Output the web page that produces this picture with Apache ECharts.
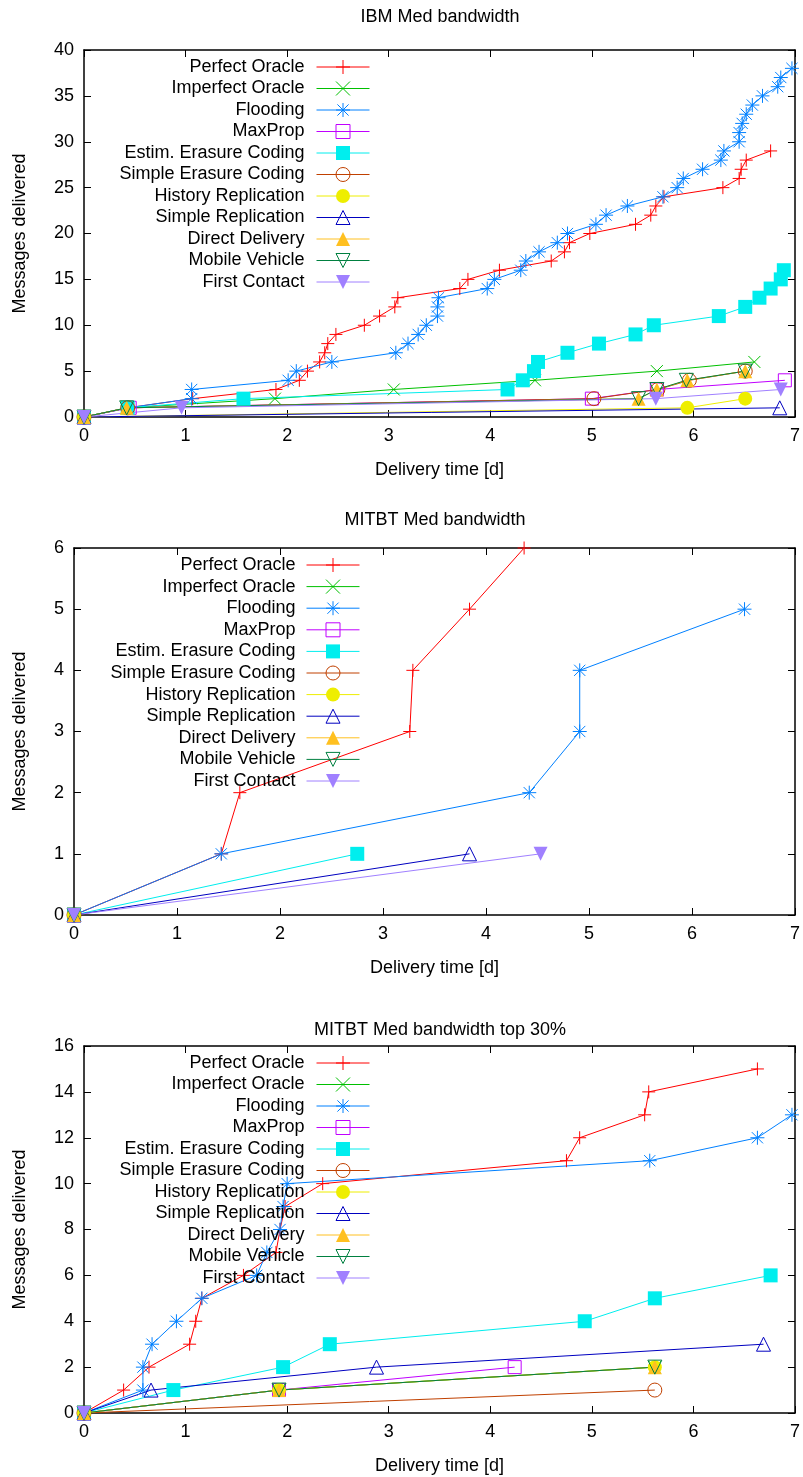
<!DOCTYPE html>
<html><head><meta charset="utf-8">
<script src="https://cdn.jsdelivr.net/npm/echarts@6/dist/echarts.min.js"></script>
<style>html,body{margin:0;padding:0;background:#fff}#c{width:803px;height:1477px}</style>
</head><body><div id="c"></div>
<script>
// ---------------- DATA ----------------
const seriesNames = ['Perfect Oracle','Imperfect Oracle','Flooding','MaxProp','Estim. Erasure Coding','Simple Erasure Coding','History Replication','Simple Replication','Direct Delivery','Mobile Vehicle','First Contact'];
const panelTitles = ['IBM Med bandwidth','MITBT Med bandwidth','MITBT Med bandwidth top 30%'];
const xAxisName = 'Delivery time [d]';
const yAxisName = 'Messages delivered';
const xTicks = [0,1,2,3,4,5,6,7];
const ibmYTicks = [0,5,10,15,20,25,30,35,40];
const mitYTicks = [0,1,2,3,4,5,6];
const topYTicks = [0,2,4,6,8,10,12,14,16];

// IBM Med bandwidth  [delivery time (d), messages delivered]
const ibmPerfectOracle = [[0,0],[0.43,1],[1.07,2],[1.89,3],[2.12,4],[2.2,5],[2.32,6],[2.37,7],[2.4,8],[2.48,9],[2.76,10],[2.91,11],[3.06,12],[3.09,13],[3.7,14],[3.78,15],[4.09,16],[4.6,17],[4.73,18],[4.78,19],[4.98,20],[5.43,21],[5.58,22],[5.63,23],[5.71,24],[6.29,25],[6.45,26],[6.47,27],[6.52,28],[6.76,29]];
const ibmImperfectOracle = [[0,0],[0.43,1],[1.88,2],[3.05,3],[4.44,4],[5.64,5],[6.6,6]];
const ibmFlooding = [[0,0],[0.43,1],[1.06,2],[1.06,3],[2.01,4],[2.09,5],[2.44,6],[3.07,7],[3.19,8],[3.29,9],[3.37,10],[3.48,11],[3.48,12],[3.49,13],[3.97,14],[4.04,15],[4.3,16],[4.35,17],[4.48,18],[4.66,19],[4.76,20],[5.04,21],[5.14,22],[5.35,23],[5.7,24],[5.84,25],[5.9,26],[6.09,27],[6.27,28],[6.3,29],[6.45,30],[6.45,31],[6.48,32],[6.52,33],[6.58,34],[6.68,35],[6.83,36],[6.86,37],[6.97,38]];
const ibmMaxProp = [[0,0],[0.45,1],[5.0,2],[5.64,3],[6.9,4]];
const ibmEstimErasure = [[0,0],[0.43,1],[1.57,2],[4.17,3],[4.32,4],[4.43,5],[4.47,6],[4.76,7],[5.07,8],[5.43,9],[5.61,10],[6.25,11],[6.51,12],[6.65,13],[6.76,14],[6.86,15],[6.89,16]];
const ibmSimpleErasure = [[0,0],[0.43,1],[5.02,2],[5.65,3],[5.96,4],[6.51,5]];
const ibmHistoryRepl = [[0,0],[5.94,1],[6.51,2]];
const ibmSimpleRepl = [[0,0],[6.85,1]];
const ibmDirectDelivery = [[0,0],[0.42,1],[5.46,2],[5.64,3],[5.94,4],[6.51,5]];
const ibmMobileVehicle = [[0,0],[0.42,1],[5.46,2],[5.64,3],[5.93,4],[6.51,5]];
const ibmFirstContact = [[0,0],[0.96,1],[5.63,2],[6.86,3]];

// MITBT Med bandwidth
const mitPerfectOracle = [[0,0],[1.43,1],[1.61,2],[3.26,3],[3.29,4],[3.84,5],[4.37,6]];
const mitImperfectOracle = [[0,0]];
const mitFlooding = [[0,0],[1.43,1],[4.42,2],[4.91,3],[4.91,4],[6.51,5]];
const mitMaxProp = [[0,0]];
const mitEstimErasure = [[0,0],[2.75,1]];
const mitSimpleErasure = [[0,0]];
const mitHistoryRepl = [[0,0]];
const mitSimpleRepl = [[0,0],[3.84,1]];
const mitDirectDelivery = [[0,0]];
const mitMobileVehicle = [[0,0]];
const mitFirstContact = [[0,0],[4.53,1]];

// MITBT Med bandwidth top 30%
const topPerfectOracle = [[0,0],[0.39,1],[0.64,2],[1.04,3],[1.1,4],[1.16,5],[1.57,6],[1.89,7],[1.93,8],[1.98,9],[2.35,10],[4.75,11],[4.88,12],[5.52,13],[5.56,14],[6.63,15]];
const topImperfectOracle = [[0,0],[1.92,1],[5.62,2]];
const topFlooding = [[0,0],[0.58,1],[0.58,2],[0.67,3],[0.91,4],[1.16,5],[1.7,6],[1.8,7],[1.93,8],[1.96,9],[2.0,10],[5.57,11],[6.63,12],[6.97,13]];
const topMaxProp = [[0,0],[1.92,1],[4.24,2]];
const topEstimErasure = [[0,0],[0.88,1],[1.96,2],[2.42,3],[4.93,4],[5.62,5],[6.76,6]];
const topSimpleErasure = [[0,0],[5.62,1]];
const topHistoryRepl = [[0,0],[1.92,1],[5.62,2]];
const topSimpleRepl = [[0,0],[0.66,1],[2.88,2],[6.69,3]];
const topDirectDelivery = [[0,0],[1.92,1],[5.62,2]];
const topMobileVehicle = [[0,0],[1.92,1],[5.62,2]];
const topFirstContact = [[0,0]];

// ---------------- STYLE ----------------
const FONT = '"Liberation Sans", Arial, Helvetica, sans-serif';
const PLUS = 'path://M6,0L6,12M0,6L12,6';
const CROSS = 'path://M0,0L12,12M12,0L0,12';
const STAR = 'path://M6,0L6,12M0,6L12,6M1.2,1.2L10.8,10.8M10.8,1.2L1.2,10.8';
const styles = [
  {color:'#FF0000', symbol:PLUS, open:true, size:13},
  {color:'#00C000', symbol:CROSS, open:true, size:12},
  {color:'#0080FF', symbol:STAR, open:true, size:14},
  {color:'#C000FF', symbol:'rect', open:true, size:13},
  {color:'#00EEEE', symbol:'rect', open:false, size:14},
  {color:'#C04000', symbol:'circle', open:true, size:14},
  {color:'#EEEE00', symbol:'circle', open:false, size:14},
  {color:'#0000C0', symbol:'triangle', open:true, size:14},
  {color:'#FFC020', symbol:'triangle', open:false, size:14},
  {color:'#008040', symbol:'triangle', open:true, size:14, rotate:180},
  {color:'#A080FF', symbol:'triangle', open:false, size:14, rotate:180}
];

const panels = [
  {title:panelTitles[0], titleTop:8, yTicks:ibmYTicks, grid:{left:84, top:50, width:712, height:367}, yNameGap:55, legend:{right:433, top:58, gap:3.5, pad:7},
   data:[ibmPerfectOracle,ibmImperfectOracle,ibmFlooding,ibmMaxProp,ibmEstimErasure,ibmSimpleErasure,ibmHistoryRepl,ibmSimpleRepl,ibmDirectDelivery,ibmMobileVehicle,ibmFirstContact]},
  {title:panelTitles[1], titleTop:511, yTicks:mitYTicks, grid:{left:74, top:548, width:722, height:367}, yNameGap:45, legend:{right:443, top:556, gap:3.6, pad:6},
   data:[mitPerfectOracle,mitImperfectOracle,mitFlooding,mitMaxProp,mitEstimErasure,mitSimpleErasure,mitHistoryRepl,mitSimpleRepl,mitDirectDelivery,mitMobileVehicle,mitFirstContact]},
  {title:panelTitles[2], titleTop:1021, yTicks:topYTicks, grid:{left:84, top:1046, width:712, height:367}, yNameGap:55, legend:{right:433, top:1054, gap:3.5, pad:7},
   data:[topPerfectOracle,topImperfectOracle,topFlooding,topMaxProp,topEstimErasure,topSimpleErasure,topHistoryRepl,topSimpleRepl,topDirectDelivery,topMobileVehicle,topFirstContact]}
];

const axisLine = {show:true, onZero:false, lineStyle:{color:'#000', width:1.5}};
const axisTick = {show:true, inside:true, length:7, lineStyle:{color:'#000', width:1}};
const labelStyle = {color:'#000', fontSize:18, fontFamily:FONT, margin:10};
const nameStyle = {color:'#000', fontSize:18, fontFamily:FONT};

const option = {animation:false, backgroundColor:'#fff', title:[], grid:[], xAxis:[], yAxis:[], legend:[], series:[]};

panels.forEach((p, i) => {
  const g = p.grid;
  option.title.push({text:p.title, left:g.left + g.width/2, top:p.titleTop, textAlign:'center', padding:0,
    textStyle:{fontSize:18, fontWeight:'normal', color:'#000', fontFamily:FONT}});
  option.grid.push({left:g.left, top:g.top, width:g.width, height:g.height, containLabel:false});
  const yMin = p.yTicks[0], yMax = p.yTicks[p.yTicks.length-1], yInt = p.yTicks[1]-p.yTicks[0];
  const xMin = xTicks[0], xMax = xTicks[xTicks.length-1], xInt = xTicks[1]-xTicks[0];
  option.xAxis.push({gridIndex:i, type:'value', position:'bottom', min:xMin, max:xMax, interval:xInt,
    name:xAxisName, nameLocation:'middle', nameGap:44, nameTextStyle:nameStyle,
    axisLine, axisTick, axisLabel:labelStyle, splitLine:{show:false}});
  option.xAxis.push({gridIndex:i, type:'value', position:'top', min:xMin, max:xMax, interval:xInt,
    axisLine, axisTick, axisLabel:{show:false}, splitLine:{show:false}});
  option.yAxis.push({gridIndex:i, type:'value', position:'left', min:yMin, max:yMax, interval:yInt,
    name:yAxisName, nameLocation:'middle', nameGap:p.yNameGap, nameTextStyle:nameStyle,
    axisLine, axisTick, axisLabel:labelStyle, splitLine:{show:false}});
  option.yAxis.push({gridIndex:i, type:'value', position:'right', min:yMin, max:yMax, interval:yInt,
    axisLine, axisTick, axisLabel:{show:false}, splitLine:{show:false}});
  option.legend.push({data:seriesNames, orient:'vertical', align:'right', right:p.legend.right, top:p.legend.top,
    itemGap:p.legend.gap, itemWidth:53, itemHeight:17.5, padding:0, selectedMode:false,
    formatter: name => '{t|' + name + '}',
    textStyle:{fontSize:18, color:'#000', fontFamily:FONT,
      rich:{t:{fontSize:18, color:'#000', fontFamily:FONT, padding:[0, p.legend.pad, 0, 0]}}},
    lineStyle:{width:1}, itemStyle:{borderWidth:1}});
  p.data.forEach((d, j) => {
    const s = styles[j];
    option.series.push({
      type:'line', name:seriesNames[j], xAxisIndex:2*i, yAxisIndex:2*i, data:d,
      symbol:s.symbol, symbolSize:s.size, symbolRotate:s.rotate || 0, showSymbol:true, showAllSymbol:true,
      clip:false, silent:true, animation:false,
      lineStyle:{color:s.color, width:1},
      itemStyle:s.open ? {color:'rgba(0,0,0,0)', borderColor:s.color, borderWidth:1}
                       : {color:s.color, borderWidth:0},
      emphasis:{disabled:true}
    });
  });
});

const chart = echarts.init(document.getElementById('c'), null, {renderer:'canvas'});
chart.setOption(option);
</script>
</body></html>
